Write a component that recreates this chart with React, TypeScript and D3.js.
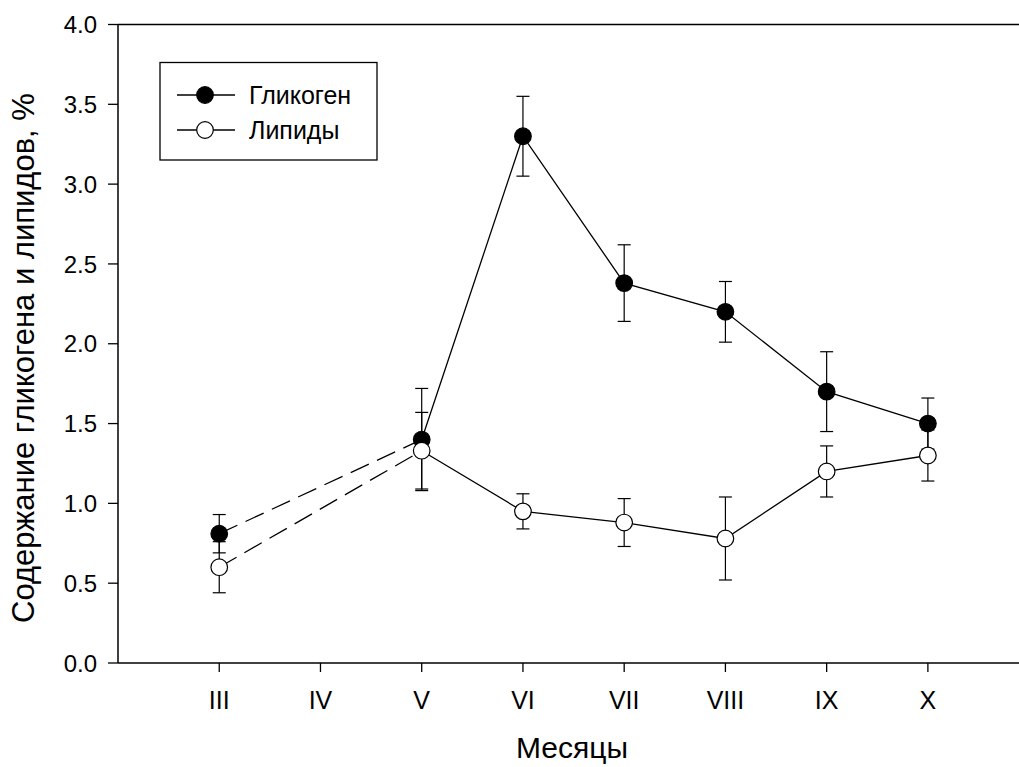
import React from 'react'
import * as d3 from 'd3'

const monthLabels = ['III', 'IV', 'V', 'VI', 'VII', 'VIII', 'IX', 'X']
const monthNums = [3, 4, 5, 6, 7, 8, 9, 10]

const sampleMonths = [3, 5, 6, 7, 8, 9, 10]
const glycogen = [0.81, 1.40, 3.30, 2.38, 2.20, 1.70, 1.50]
const glycogenErr = [0.12, 0.32, 0.25, 0.24, 0.19, 0.25, 0.16]
const lipids = [0.60, 1.33, 0.95, 0.88, 0.78, 1.20, 1.30]
const lipidsErr = [0.16, 0.24, 0.11, 0.15, 0.26, 0.16, 0.16]

const yTicks = [0, 0.5, 1, 1.5, 2, 2.5, 3, 3.5, 4]

const W = 1019
const H = 767
const FONT = '"Liberation Sans", Arial, Helvetica, sans-serif'

const x = d3.scaleLinear().domain([2, 10.9]).range([118, 1019])
const y = d3.scaleLinear().domain([0, 4]).range([663, 24.5])

const line = d3.line<[number, number]>().x(d => x(d[0])).y(d => y(d[1]))

function Series({ values, errs, fill }: { values: number[], errs: number[], fill: string }) {
  const pts: [number, number][] = sampleMonths.map((m, i) => [m, values[i]])
  const cap = 6.5
  return <g>
    <path d={line(pts.slice(0, 2)) || ''} fill="none" stroke="black" strokeWidth={1.3} strokeDasharray="20,9" />
    <path d={line(pts.slice(1)) || ''} fill="none" stroke="black" strokeWidth={1.3} />
    {pts.map(([m, v], i) => {
      const cx = x(m)
      const hi = y(v + errs[i])
      const lo = y(v - errs[i])
      return <g key={'e' + i} stroke="black" strokeWidth={1.2}>
        <line x1={cx} x2={cx} y1={hi} y2={lo} />
        <line x1={cx - cap} x2={cx + cap} y1={hi} y2={hi} />
        <line x1={cx - cap} x2={cx + cap} y1={lo} y2={lo} />
      </g>
    })}
    {pts.map(([m, v], i) =>
      <circle key={'c' + i} cx={x(m)} cy={y(v)} r={8.3} fill={fill} stroke="black" strokeWidth={1.2} />
    )}
  </g>
}

export default function App() {
  return <div style={{ position: 'absolute', left: 0, top: 0 }}>
    <svg width={W} height={H} style={{ display: 'block', background: 'white' }} fontFamily={FONT}>
      {/* frame: left, top, bottom */}
      <g stroke="black" strokeWidth={1.5} fill="none">
        <line x1={118} x2={118} y1={y(4)} y2={y(0)} />
        <line x1={118} x2={W} y1={y(4)} y2={y(4)} />
        <line x1={118} x2={W} y1={y(0)} y2={y(0)} />
      </g>
      {yTicks.map(t =>
        <g key={t}>
          <line x1={108} x2={118} y1={y(t)} y2={y(t)} stroke="black" strokeWidth={1.3} />
          <text x={97} y={y(t)} dy="0.36em" textAnchor="end" fontSize={24}>{t.toFixed(1)}</text>
        </g>
      )}
      {monthNums.map((m, i) =>
        <g key={m}>
          <line x1={x(m)} x2={x(m)} y1={y(0)} y2={y(0) + 9} stroke="black" strokeWidth={1.3} />
          <text x={x(m)} y={709} textAnchor="middle" fontSize={25}>{monthLabels[i]}</text>
        </g>
      )}
      <text x={572} y={758} textAnchor="middle" fontSize={30}>Месяцы</text>
      <text transform="translate(34,358) rotate(-90)" textAnchor="middle" fontSize={31}>
        Содержание гликогена и липидов, %
      </text>

      <Series values={glycogen} errs={glycogenErr} fill="black" />
      <Series values={lipids} errs={lipidsErr} fill="white" />

      {/* legend */}
      <rect x={160} y={62.5} width={217} height={97.5} fill="white" stroke="black" strokeWidth={1.3} />
      {[{ label: 'Гликоген', fill: 'black', cy: 95 }, { label: 'Липиды', fill: 'white', cy: 130 }].map(d =>
        <g key={d.label}>
          <line x1={177} x2={235} y1={d.cy} y2={d.cy} stroke="black" strokeWidth={1.3} />
          <circle cx={205} cy={d.cy} r={8.3} fill={d.fill} stroke="black" strokeWidth={1.2} />
          <text x={249} y={d.cy} dy="0.36em" fontSize={25}>{d.label}</text>
        </g>
      )}
    </svg>
  </div>
}
